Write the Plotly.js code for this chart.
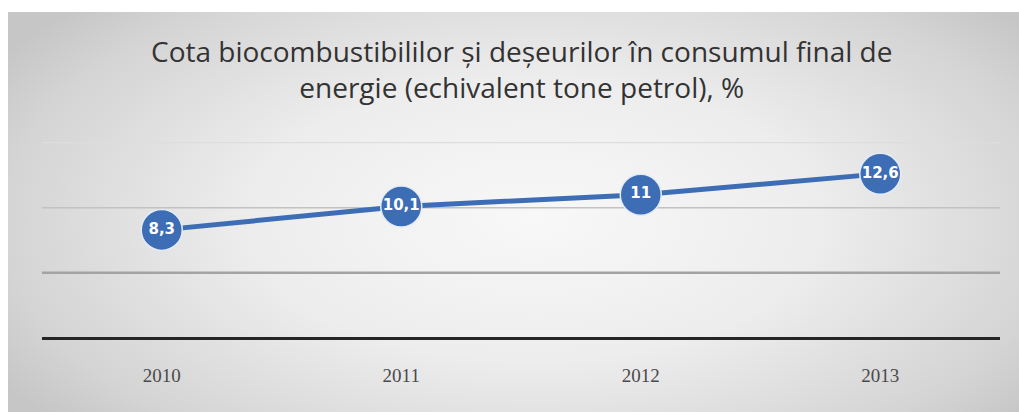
<!DOCTYPE html>
<html>
<head>
<meta charset="utf-8">
<script src="https://cdn.plot.ly/plotly-3.0.1.min.js"></script>
<style>
html,body{margin:0;padding:0;background:#fff;}
#wrap{position:absolute;left:8px;top:12px;width:1011px;height:400px;
background:radial-gradient(ellipse 62% 78% at 52% 52%, #f8f8f8 0%, #ededed 45%, #d4d4d4 85%, #c6c6c6 100%);}
#chart{position:absolute;left:0;top:0;width:1019px;height:412px;}
</style>
</head>
<body>
<div id="wrap"></div>
<div id="chart"></div>
<script>
const years = ['2010','2011','2012','2013'];
const values = [8.3, 10.1, 11, 12.6];
const labels = ['8,3','10,1','11','12,6'];
const gridValues = [5, 10, 15];
const titleText = 'Cota biocombustibililor și deșeurilor în consumul final de<br>energie (echivalent tone petrol), %';

const gridStyles = [
  {color: '#a3a3a3', width: 2.5},
  {color: '#c2c2c2', width: 1.5},
  {color: '#dddddd', width: 1.2}
];

const trace = {
  x: years, y: values, text: labels,
  type: 'scatter', mode: 'lines+markers+text',
  line: {color: '#3d6db5', width: 5},
  marker: {size: 41, color: '#3d6db5', line: {color: '#e3ebf6', width: 1.5}},
  textposition: 'middle center',
  textfont: {family: 'DejaVu Sans', size: 15, color: '#ffffff', weight: 'bold'},
  cliponaxis: false, hoverinfo: 'none'
};

const shapes = gridValues.map((v, i) => ({
  type: 'line', xref: 'paper', yref: 'y', x0: 0, x1: 1, y0: v, y1: v,
  line: gridStyles[i], layer: 'below'
}));

const layout = {
  width: 1019, height: 412,
  margin: {l: 42, r: 19, t: 140, b: 74},
  paper_bgcolor: 'rgba(0,0,0,0)', plot_bgcolor: 'rgba(0,0,0,0)',
  title: {text: titleText, x: 0.512, xanchor: 'center', y: 0.85, yanchor: 'top',
          font: {family: 'Open Sans', size: 28, color: '#333333'}},
  showlegend: false,
  shapes: shapes,
  xaxis: {type: 'category', range: [-0.5, 3.5], showgrid: false, zeroline: false,
          showline: false, ticks: '', ticklabelstandoff: 24,
          tickfont: {family: 'Liberation Serif', size: 19, color: '#4a4a4a'}},
  yaxis: {range: [0, 15.2], dtick: 5, showticklabels: false, ticks: '',
          showgrid: false,
          zeroline: true, zerolinecolor: '#252525', zerolinewidth: 3, showline: false}
};

Plotly.newPlot('chart', [trace], layout, {displayModeBar: false, staticPlot: true});
</script>
</body>
</html>
